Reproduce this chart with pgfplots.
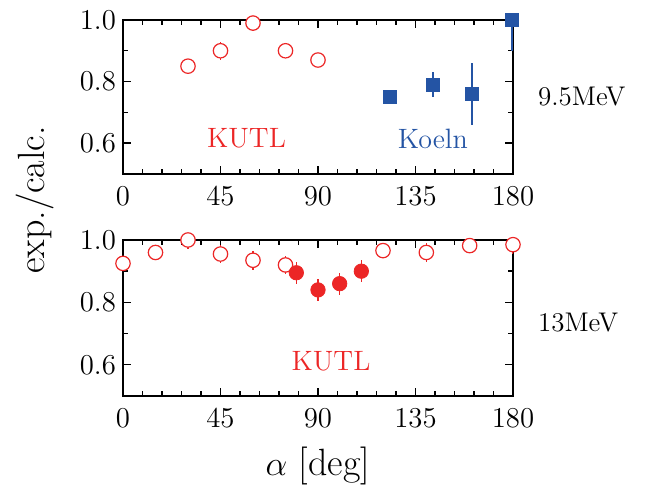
\documentclass[border=0pt]{standalone}
\usepackage{pgfplots}
\usepackage{pgfplotstable}
\pgfplotsset{compat=1.18}

\definecolor{kred}{RGB}{236,38,38}
\definecolor{kblue}{RGB}{36,84,164}

% 9.5 MeV, KUTL (open)
\pgfplotstableread{
x     y      e
30    0.85   0.02
45    0.90   0.03
60    0.99   0.025
75    0.90   0.02
90    0.87   0.02
}\lowkutl
% 13 MeV, KUTL (open)
\pgfplotstableread{
x     y      e
0     0.925  0.02
15    0.96   0.02
30    1.0    0.03
45    0.955  0.03
60    0.935  0.03
75    0.92   0.03
120   0.966  0.02
140   0.96   0.03
160   0.982  0.02
180   0.985  0.03
}\highkutl

\pgfplotsset{
    panel/.style={
        scale only axis,
        width=195pt,
        xmin=0, xmax=180, ymin=0.5, ymax=1.0,
        xtick={0,45,90,135,180},
        ytick={0.6,0.8,1.0},
        minor x tick num=4,
        minor y tick num=1,
        yticklabel style={/pgf/number format/.cd,fixed,fixed zerofill,precision=1},
        xticklabel style={yshift=-3pt},
        tick label style={font=\fontsize{13.5}{14}\selectfont},
        axis line style={line width=0.8pt},
        tick style={black, line width=0.7pt},
        major tick length=4pt,
        minor tick length=2.5pt,
    },
    errs/.style={no markers, draw=none,
        error bars/.cd, y dir=both, y explicit, error mark=none,
        error bar style={line width=0.7pt, draw=#1}},
    opencirc/.style={only marks, mark=*, mark size=3.6pt,
        mark options={draw=kred, fill=white, line width=0.6pt}},
    fullcirc/.style={only marks, color=kred, mark=*, mark size=3.6pt,
        error bars/.cd, y dir=both, y explicit, error mark=none,
        error bar style={line width=0.7pt, kred}},
    fullsq/.style={only marks, color=kblue, mark=square*, mark size=3.3pt,
        error bars/.cd, y dir=both, y explicit, error mark=none,
        error bar style={line width=0.7pt, kblue}},
}

\begin{document}
\begin{tikzpicture}
% page size as in the reference
\path (-61.5pt,-44pt) rectangle (262.5pt,198pt);

% 9.5 MeV
\begin{axis}[panel, name=top, height=77pt, at={(0,111pt)}]
    \addplot[errs=kred] table[x=x, y=y, y error=e] {\lowkutl};
    \addplot[opencirc] table[x=x, y=y] {\lowkutl};
    \addplot[fullsq] coordinates {
        (123,0.75) +- (0,0.01)
        (143,0.79) +- (0,0.04)
        (161,0.76) +- (0,0.10)
    };
    \addplot[fullsq] coordinates {
        (179.5,1.0) += (0,0) -= (0,0.10)
    };
    \node[kred, font=\fontsize{14}{14}\selectfont] at (axis cs:57,0.615) {KUTL};
    \node[kblue, font=\fontsize{14}{14}\selectfont] at (axis cs:143,0.615) {Koeln};
\end{axis}

% 13 MeV
\begin{axis}[panel, name=bot, height=78pt, at={(0,0)},
    xlabel={$\alpha$ [deg]},
    xlabel style={font=\fontsize{19}{20}\selectfont, yshift=-3pt}]
    \addplot[errs=kred] table[x=x, y=y, y error=e] {\highkutl};
    \addplot[opencirc] table[x=x, y=y] {\highkutl};
    \addplot[fullcirc] coordinates {
        (80,0.895) +- (0,0.035)
        (90,0.84) +- (0,0.035)
        (100,0.86) +- (0,0.035)
        (110,0.90) +- (0,0.035)
    };
    \node[kred, font=\fontsize{14}{14}\selectfont] at (axis cs:96,0.61) {KUTL};
\end{axis}

\node[anchor=west, font=\fontsize{13.5}{14}\selectfont, xshift=9pt] at (top.east) {9.5MeV};
\node[anchor=west, font=\fontsize{13.5}{14}\selectfont, xshift=9pt, yshift=-2.5pt] at (bot.east) {13MeV};
\node[rotate=90, font=\fontsize{19}{20}\selectfont] at (-44pt,98pt) {exp./calc.};
\end{tikzpicture}
\end{document}
